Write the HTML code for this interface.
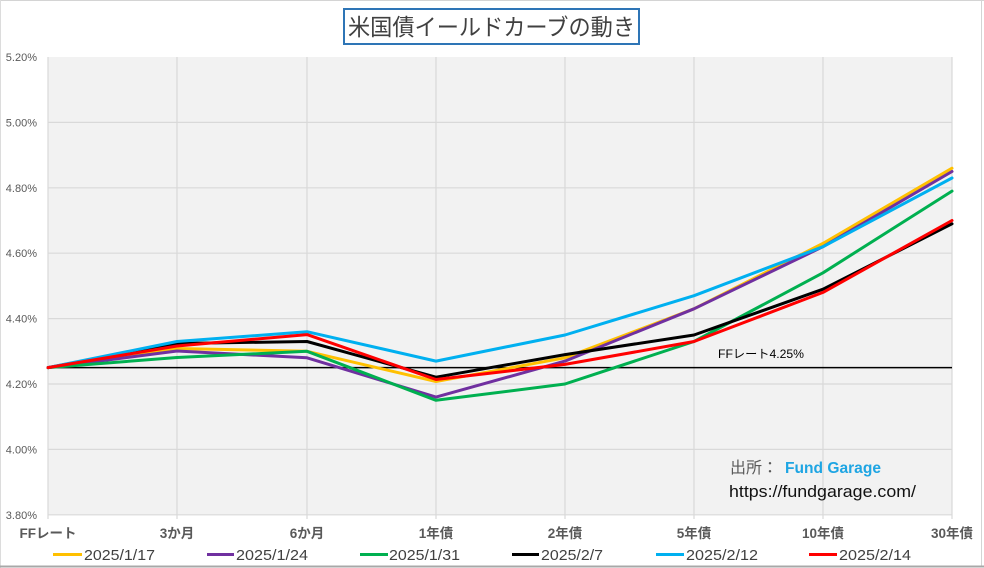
<!DOCTYPE html>
<html>
<head>
<meta charset="utf-8">
<style>
  html, body { margin: 0; padding: 0; background: #ffffff; }
  body { width: 984px; height: 568px; overflow: hidden; }
  svg { display: block; }
  text { font-family: "Liberation Sans", "Noto Sans CJK JP", sans-serif; }
</style>
</head>
<body>
<svg width="984" height="568" viewBox="0 0 984 568" xmlns="http://www.w3.org/2000/svg">
  <!-- outer frame -->
  <rect x="0" y="0" width="984" height="568" fill="#ffffff"/>
  <line x1="0" y1="0.5" x2="984" y2="0.5" stroke="#d4d4d4" stroke-width="1"/>
  <line x1="0.5" y1="0" x2="0.5" y2="568" stroke="#dcdcdc" stroke-width="1"/>
  <line x1="981.5" y1="0" x2="981.5" y2="567" stroke="#d4d4d4" stroke-width="1"/>
  <line x1="0" y1="566.5" x2="984" y2="566.5" stroke="#a8a8a8" stroke-width="2"/>

  <!-- title -->
  <rect x="344" y="9" width="295" height="35" fill="#ffffff" stroke="#2e75b6" stroke-width="2"/>
  <text x="348" y="35" font-size="23" fill="#404040" textLength="287" lengthAdjust="spacingAndGlyphs">米国債イールドカーブの動き</text>

  <!-- plot area -->
  <rect x="48" y="57" width="904" height="458" fill="#f2f2f2"/>
  <!-- horizontal gridlines -->
  <g stroke="#d9d9d9" stroke-width="1.2">
    <line x1="48" y1="122.4" x2="952" y2="122.4"/>
    <line x1="48" y1="187.8" x2="952" y2="187.8"/>
    <line x1="48" y1="253.2" x2="952" y2="253.2"/>
    <line x1="48" y1="318.6" x2="952" y2="318.6"/>
    <line x1="48" y1="384" x2="952" y2="384"/>
    <line x1="48" y1="449.4" x2="952" y2="449.4"/>
    <line x1="48" y1="514.8" x2="952" y2="514.8"/>
  </g>
  <!-- vertical gridlines -->
  <g stroke="#d9d9d9" stroke-width="1.2">
    <line x1="48" y1="57" x2="48" y2="519"/>
    <line x1="177" y1="57" x2="177" y2="519"/>
    <line x1="307" y1="57" x2="307" y2="519"/>
    <line x1="436" y1="57" x2="436" y2="519"/>
    <line x1="565" y1="57" x2="565" y2="519"/>
    <line x1="694" y1="57" x2="694" y2="519"/>
    <line x1="823" y1="57" x2="823" y2="519"/>
    <line x1="952" y1="57" x2="952" y2="519"/>
  </g>

  <!-- y axis labels -->
  <g font-size="11" fill="#595959" text-anchor="end">
    <text x="37" y="61">5.20%</text>
    <text x="37" y="126.4">5.00%</text>
    <text x="37" y="191.8">4.80%</text>
    <text x="37" y="257.2">4.60%</text>
    <text x="37" y="322.6">4.40%</text>
    <text x="37" y="388">4.20%</text>
    <text x="37" y="453.4">4.00%</text>
    <text x="37" y="518.8">3.80%</text>
  </g>

  <!-- x axis labels -->
  <g font-size="13.5" fill="#595959" font-weight="bold" text-anchor="middle">
    <text x="48" y="538">FFレート</text>
    <text x="177" y="538">3か月</text>
    <text x="307" y="538">6か月</text>
    <text x="436" y="538">1年債</text>
    <text x="565" y="538">2年債</text>
    <text x="694" y="538">5年債</text>
    <text x="823" y="538">10年債</text>
    <text x="952" y="538">30年債</text>
  </g>

  <!-- FF rate line 4.25% -->
  <line x1="48" y1="367.6" x2="952" y2="367.6" stroke="#000000" stroke-width="1.5"/>
  <text x="718" y="358" font-size="12" fill="#000000" textLength="86" lengthAdjust="spacingAndGlyphs">FFレート4.25%</text>

  <!-- series -->
  <g fill="none" stroke-width="3" stroke-linejoin="round" stroke-linecap="round">
    <!-- 2025/1/17 yellow -->
    <polyline stroke="#ffc000" points="48,367.6 177,348.5 307,351.3 436,381.5 565,357.8 694,308.8 823,243.4 952,168.2"/>
    <!-- 2025/1/24 purple -->
    <polyline stroke="#7030a0" points="48,367.6 177,351 307,357.8 436,397.1 565,361.1 694,308.8 823,246.7 952,171.5"/>
    <!-- 2025/1/31 green -->
    <polyline stroke="#00b050" points="48,367.6 177,357.5 307,351.3 436,400.3 565,384 694,341.5 823,272.8 952,191.1"/>
    <!-- 2025/2/7 black -->
    <polyline stroke="#000000" points="48,367.6 177,343.5 307,341.5 436,377.2 565,354.6 694,335 823,289.2 952,223.8"/>
    <!-- 2025/2/12 blue -->
    <polyline stroke="#00b0f0" points="48,367.6 177,341.5 307,331.7 436,361.1 565,335 694,295.7 823,246.7 952,178"/>
    <!-- 2025/2/14 red -->
    <polyline stroke="#ff0000" points="48,367.6 177,346 307,334.6 436,379.5 565,364.4 694,341.5 823,292.4 952,220.5"/>
  </g>

  <!-- source annotation -->
  <text x="730" y="473" font-size="16" fill="#595959">出所：</text>
  <text x="785" y="473" font-size="16" font-weight="bold" fill="#1ea5e3" textLength="96" lengthAdjust="spacingAndGlyphs">Fund Garage</text>
  <text x="729" y="497" font-size="16.5" fill="#111111" textLength="187" lengthAdjust="spacingAndGlyphs">https://fundgarage.com/</text>

  <!-- legend -->
  <g stroke-width="3">
    <line x1="53" y1="554.5" x2="82" y2="554.5" stroke="#ffc000"/>
    <line x1="207" y1="554.5" x2="234" y2="554.5" stroke="#7030a0"/>
    <line x1="360" y1="554.5" x2="388" y2="554.5" stroke="#00b050"/>
    <line x1="512" y1="554.5" x2="539" y2="554.5" stroke="#000000"/>
    <line x1="656" y1="554.5" x2="684" y2="554.5" stroke="#00b0f0"/>
    <line x1="809" y1="554.5" x2="837" y2="554.5" stroke="#ff0000"/>
  </g>
  <g font-size="14.5" fill="#404040">
    <text x="84" y="560" textLength="71" lengthAdjust="spacingAndGlyphs">2025/1/17</text>
    <text x="236" y="560" textLength="72" lengthAdjust="spacingAndGlyphs">2025/1/24</text>
    <text x="389" y="560" textLength="71" lengthAdjust="spacingAndGlyphs">2025/1/31</text>
    <text x="541" y="560" textLength="62" lengthAdjust="spacingAndGlyphs">2025/2/7</text>
    <text x="686" y="560" textLength="72" lengthAdjust="spacingAndGlyphs">2025/2/12</text>
    <text x="839" y="560" textLength="72" lengthAdjust="spacingAndGlyphs">2025/2/14</text>
  </g>
</svg>
</body>
</html>
